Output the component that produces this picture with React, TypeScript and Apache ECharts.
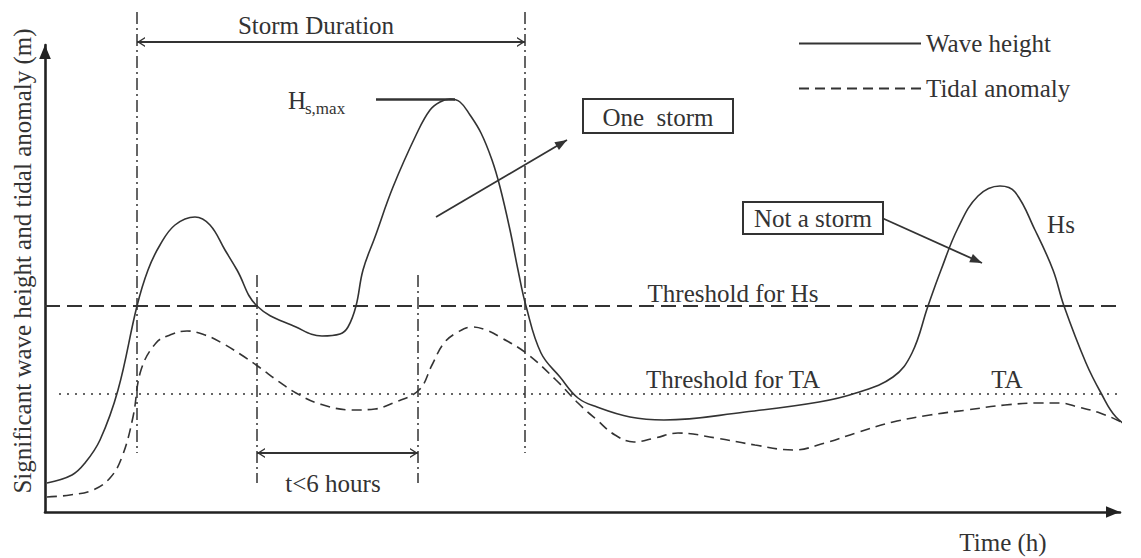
import React, { useEffect, useRef } from 'react';
import * as echarts from 'echarts';

// ---- data (time in h, height in m) ----
const waveTime = [0.2, 2.7, 4.0, 5.5, 7.3, 9.2, 10.3, 11.5, 13.0, 15.0, 16.5, 18.0, 19.2, 21.2, 25.1, 27.7, 29.5, 30.3, 31.1, 31.8, 33.0, 34.8, 37.2, 38.5, 39.5, 40.5, 41.5, 42.5, 43.6, 44.7, 45.5, 46.5, 47.3, 48.1, 49.6, 51.5, 53.3, 55.2, 58.5, 61.9, 70.0, 77.4, 81.1, 84.8, 86.7, 88.3, 89.6, 91.3, 93.3, 95.5, 97.0, 99.0, 100.8, 101.9, 104.1, 105.6, 107.1, 109.3];
const waveHeight = [0.58, 0.74, 0.98, 1.44, 2.44, 4.12, 4.84, 5.34, 5.74, 5.9, 5.74, 5.24, 4.84, 4.12, 3.7, 3.52, 3.56, 3.7, 4.12, 4.84, 5.5, 6.5, 7.58, 8.04, 8.2, 8.26, 8.2, 7.94, 7.58, 7.04, 6.5, 5.64, 4.84, 4.12, 3.18, 2.7, 2.28, 2.1, 1.9, 1.84, 2.0, 2.2, 2.38, 2.7, 3.18, 4.12, 4.84, 5.68, 6.32, 6.52, 6.4, 5.64, 4.84, 4.12, 2.98, 2.38, 1.9, 1.58];

const tideTime = [0.2, 2.5, 4.8, 6.5, 7.7, 8.8, 9.6, 11.1, 12.5, 14.2, 16.0, 17.7, 19.5, 21.4, 23.3, 25.1, 27.5, 30.7, 33.0, 34.8, 37.4, 38.7, 39.9, 41.3, 42.7, 44.1, 45.5, 48.1, 51.1, 53.3, 55.2, 57.0, 58.9, 61.0, 63.3, 67.1, 71.0, 74.8, 78.0, 81.1, 84.8, 88.5, 92.2, 96.0, 99.6, 101.5, 103.3, 105.5, 107.8, 109.3];
const tideHeight = [0.3, 0.34, 0.44, 0.68, 1.1, 1.9, 2.84, 3.38, 3.54, 3.62, 3.54, 3.38, 3.16, 2.9, 2.62, 2.38, 2.16, 2.04, 2.06, 2.18, 2.44, 2.94, 3.38, 3.6, 3.7, 3.64, 3.5, 3.18, 2.64, 2.18, 1.84, 1.54, 1.4, 1.48, 1.58, 1.48, 1.34, 1.24, 1.38, 1.58, 1.8, 1.94, 2.04, 2.14, 2.18, 2.18, 2.1, 1.98, 1.78, 1.58];

const hsThreshold = 4.12;
const hsThresholdSpan = [0, 107.8];
const taThreshold = 2.36;
const taThresholdSpan = [1.4, 107.4];

const stormSpan = [9.2, 48.0];
const stormMarkRange = [10.0, 1.18];
const stormArrowLevel = 9.4;

const gapSpan = [21.2, 37.3];
const gapMarkRange = [4.74, 0.58];
const gapArrowLevel = 1.18;

const hsMaxSpan = [33.1, 41.0];
const oneStormArrow = [[39.1, 5.9], [52.2, 7.44]];
const notStormArrow = [[83.7, 5.88], [93.7, 4.98]];

const axisRange = { xMax: 107.5, yMax: 9.34 };

// ---- styling ----
const FONT = 'Liberation Serif';
const INK = '#333333';
const FS = 25;
const DASHDOT = [12, 4, 2, 4];
const CHEVRON = 'path://M5,10 L10,20 L8.4,20 L5,13.2 L1.6,20 L0,20 Z M5,0';
const TRI = 'path://M5,10 L10,22 L0,22 Z M5,-2';

const pair = (xs: number[], ys: number[]) => xs.map((x, i) => [x, ys[i]]);

function txt(text: string, x: number, y: number, extra: any = {}, rotation = 0) {
  return {
    type: 'text',
    x,
    y,
    rotation,
    z: 20,
    style: {
      text,
      fontFamily: FONT,
      fontSize: FS,
      fill: INK,
      align: 'center',
      verticalAlign: 'middle',
      ...extra,
    },
  };
}

function buildOption(): any {
  const dashDot = { color: INK, width: 1.5, type: DASHDOT };
  const solid = { color: INK, width: 1.8, type: 'solid' };
  return {
    animation: false,
    backgroundColor: '#ffffff',
    textStyle: { fontFamily: FONT },
    grid: { left: 45, right: 21, top: 45, bottom: 46 },
    legend: {
      data: ['Wave height', 'Tidal anomaly'],
      orient: 'vertical',
      left: 793,
      top: 26,
      itemWidth: 122,
      itemHeight: 14,
      itemGap: 20,
      selectedMode: false,
      itemStyle: { opacity: 0, borderWidth: 0 },
      textStyle: { fontSize: FS, color: INK, fontFamily: FONT },
    },
    xAxis: {
      type: 'value',
      min: 0,
      max: axisRange.xMax,
      splitLine: { show: false },
      axisTick: { show: false },
      axisLabel: { show: false },
      axisLine: {
        show: true,
        onZero: false,
        symbol: ['none', TRI],
        symbolSize: [13, 28],
        lineStyle: { color: '#222', width: 2.6 },
      },
    },
    yAxis: {
      type: 'value',
      min: 0,
      max: axisRange.yMax,
      splitLine: { show: false },
      axisTick: { show: false },
      axisLabel: { show: false },
      axisLine: {
        show: true,
        onZero: false,
        symbol: ['none', TRI],
        symbolSize: [13, 28],
        lineStyle: { color: '#222', width: 2.6 },
      },
    },
    series: [
      {
        name: 'Wave height',
        type: 'line',
        data: pair(waveTime, waveHeight),
        smooth: 0.4,
        symbol: 'none',
        clip: false,
        z: 5,
        itemStyle: { color: INK },
        lineStyle: { color: INK, width: 1.6, type: 'solid' },
      },
      {
        name: 'Tidal anomaly',
        type: 'line',
        data: pair(tideTime, tideHeight),
        smooth: 0.4,
        symbol: 'none',
        clip: false,
        z: 5,
        itemStyle: { color: INK },
        lineStyle: { color: INK, width: 1.6, type: [10, 6] },
      },
      {
        name: 'Threshold for Hs',
        type: 'line',
        data: hsThresholdSpan.map((x) => [x, hsThreshold]),
        symbol: 'none',
        clip: false,
        silent: true,
        lineStyle: { color: INK, width: 1.8, type: [15, 7] },
        markLine: {
          silent: true,
          animation: false,
          label: { show: false },
          symbol: 'none',
          data: [
            [
              { coord: [gapSpan[0], gapMarkRange[0]], symbol: 'none', lineStyle: dashDot },
              { coord: [gapSpan[0], gapMarkRange[1]], symbol: 'none', lineStyle: dashDot },
            ],
            [
              { coord: [gapSpan[1], gapMarkRange[0]], symbol: 'none', lineStyle: dashDot },
              { coord: [gapSpan[1], gapMarkRange[1]], symbol: 'none', lineStyle: dashDot },
            ],
            [
              { coord: [gapSpan[0], gapArrowLevel], symbol: CHEVRON, symbolSize: [10, 16], lineStyle: solid },
              { coord: [gapSpan[1], gapArrowLevel], symbol: CHEVRON, symbolSize: [10, 16], lineStyle: solid },
            ],
            [
              { coord: [hsMaxSpan[0], Math.max(...waveHeight)], symbol: 'none', lineStyle: { color: INK, width: 2.6, type: 'solid' } },
              { coord: [hsMaxSpan[1], Math.max(...waveHeight)], symbol: 'none', lineStyle: { color: INK, width: 2.6, type: 'solid' } },
            ],
            [
              { coord: oneStormArrow[0], symbol: 'none', lineStyle: solid },
              { coord: oneStormArrow[1], symbol: TRI, symbolSize: [9, 24], lineStyle: solid },
            ],
            [
              { coord: notStormArrow[0], symbol: 'none', lineStyle: solid },
              { coord: notStormArrow[1], symbol: TRI, symbolSize: [9, 24], lineStyle: solid },
            ],
          ],
        },
      },
      {
        name: 'Threshold for TA',
        type: 'line',
        data: taThresholdSpan.map((x) => [x, taThreshold]),
        symbol: 'none',
        clip: false,
        silent: true,
        lineStyle: { color: INK, width: 1.6, type: [2, 6] },
      },
      {
        name: 'storm start',
        type: 'line',
        data: stormMarkRange.map((y) => [stormSpan[0], y]),
        symbol: 'none',
        clip: false,
        silent: true,
        lineStyle: dashDot,
      },
      {
        name: 'storm end',
        type: 'line',
        data: stormMarkRange.map((y) => [stormSpan[1], y]),
        symbol: 'none',
        clip: false,
        silent: true,
        lineStyle: dashDot,
      },
      {
        name: 'storm duration',
        type: 'line',
        data: [
          { value: [stormSpan[0], stormArrowLevel], symbolRotate: 90 },
          { value: [stormSpan[1], stormArrowLevel], symbolRotate: -90 },
        ],
        symbol: CHEVRON,
        symbolSize: [10, 16],
        showSymbol: true,
        clip: false,
        silent: true,
        itemStyle: { color: INK },
        lineStyle: solid,
      },
    ],
    graphic: [
      txt('Significant wave height and tidal anomaly (m)', 22, 261, {}, Math.PI / 2),
      txt('Time (h)', 1003, 542),
      txt('Storm Duration', 316, 25),
      txt('H', 297, 100),
      txt('s,max', 305, 108, { fontSize: 17, align: 'left' }),
      {
        type: 'rect',
        z: 19,
        shape: { x: 583, y: 99, width: 150, height: 34 },
        style: { fill: '#ffffff', stroke: INK, lineWidth: 2 },
      },
      txt('One  storm', 658, 117),
      {
        type: 'rect',
        z: 19,
        shape: { x: 743, y: 202, width: 140, height: 32 },
        style: { fill: '#ffffff', stroke: INK, lineWidth: 2 },
      },
      txt('Not a storm', 813, 218),
      txt('Hs', 1061, 224),
      txt('Threshold for Hs', 733, 293),
      txt('Threshold for TA', 733, 379),
      txt('TA', 1007, 379),
      txt('t<6 hours', 333, 483),
    ],
  };
}

export default function App() {
  const ref = useRef<HTMLDivElement>(null);
  useEffect(() => {
    if (!ref.current) return;
    const chart = echarts.init(ref.current, null, { renderer: 'svg' });
    chart.setOption(buildOption());
    return () => chart.dispose();
  }, []);
  return (
    <div
      ref={ref}
      style={{ position: 'absolute', left: 0, top: 0, width: 1141, height: 558, background: '#fff' }}
    />
  );
}
